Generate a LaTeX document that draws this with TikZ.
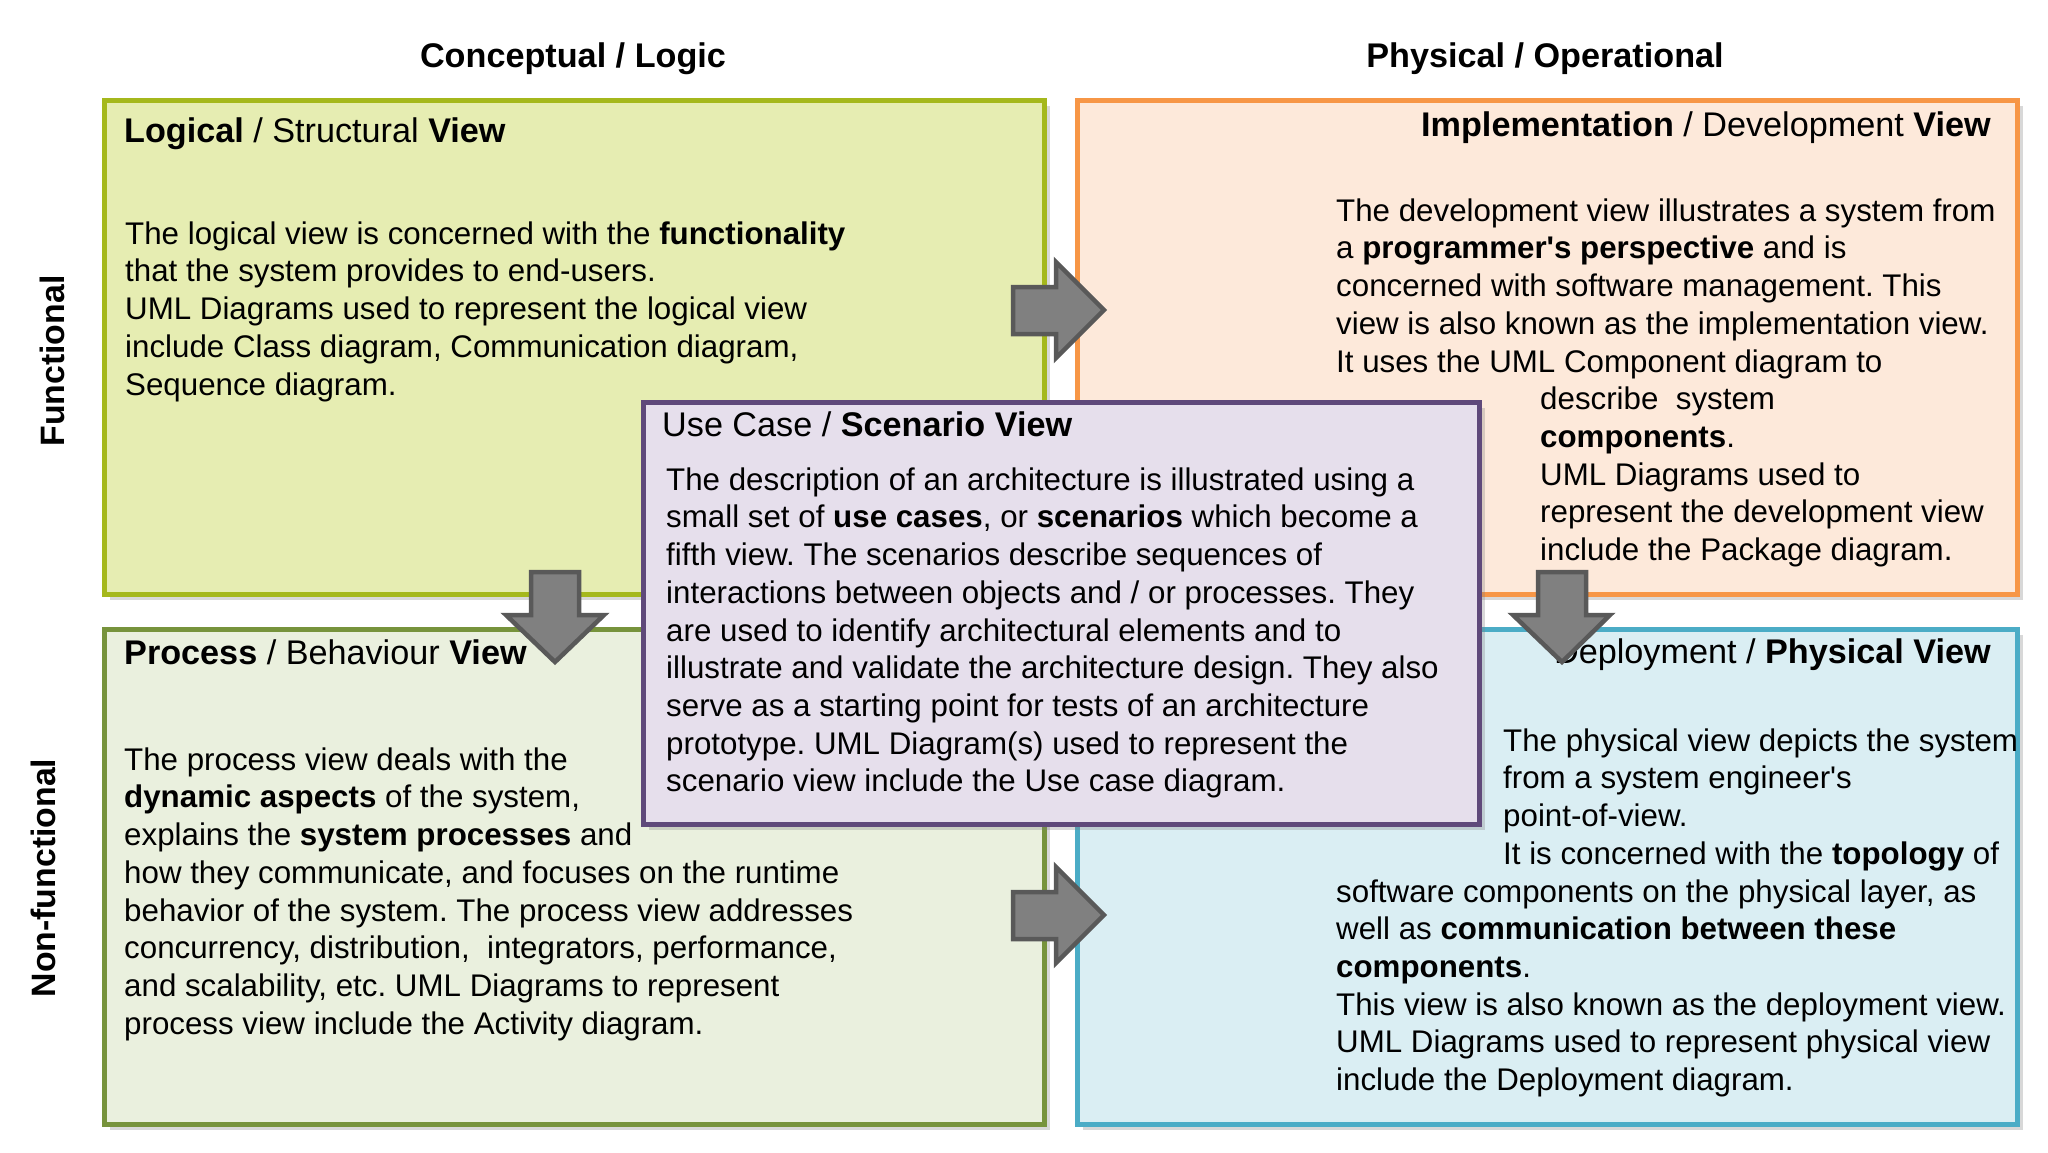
\documentclass[tikz,border=0pt]{standalone}
\usepackage{fontspec}
\setmainfont{Liberation Sans}
\usetikzlibrary{shadows}
\definecolor{lgfill}{HTML}{E6EDB2}
\definecolor{lgdraw}{HTML}{A5B81C}
\definecolor{imfill}{HTML}{FDE9DA}
\definecolor{imdraw}{HTML}{F79646}
\definecolor{prfill}{HTML}{EAF0DE}
\definecolor{prdraw}{HTML}{77933C}
\definecolor{dpfill}{HTML}{DAEEF3}
\definecolor{dpdraw}{HTML}{4BACC6}
\definecolor{ucfill}{HTML}{E6DFEC}
\definecolor{ucdraw}{HTML}{5F497A}
\definecolor{arfill}{HTML}{808080}
\definecolor{ardraw}{HTML}{595959}
\newcommand\tstrut{\rule{0pt}{24pt}}
\frenchspacing
\begin{document}
\begin{tikzpicture}[x=1pt,y=-1pt,
  viewbox/.style={rectangle, line width=4.5pt, inner sep=0pt, anchor=north west,
    drop shadow={shadow xshift=6pt, shadow yshift=-6pt, opacity=.3, fill=black!50}},
  coltitle/.style={font=\fontsize{34.2}{40}\selectfont\bfseries, inner sep=0pt, anchor=base},
  sidelabel/.style={font=\fontsize{33.8}{40}\selectfont\bfseries, inner sep=0pt, rotate=90},
  boxtitle/.style={font=\fontsize{34.2}{40}\selectfont, inner sep=0pt},
  bodytext/.style={font=\fontsize{31.3}{37.7}\selectfont\frenchspacing, inner sep=0pt, align=left, anchor=north west},
  blockarrow/.style={fill=arfill, draw=ardraw, line width=4.5pt, line join=miter}]
\useasboundingbox (0,0) rectangle (2048,1152);
\fill[white] (0,0) rectangle (2048,1152);

% column and row labels
\node[coltitle] (colA) at (573,67) {Conceptual / Logic};
\node[coltitle] (colB) at (1545,67) {Physical / Operational};
\node[sidelabel] (rowA) at (52,361) {Functional};
\node[sidelabel] (rowB) at (43,878) {Non-functional};

% quadrant boxes
\node[viewbox, fill=lgfill, draw=lgdraw, minimum width=940pt, minimum height=494pt] (logical) at (102,98) {};
\node[viewbox, fill=imfill, draw=imdraw, minimum width=940pt, minimum height=494pt] (impl) at (1075,98) {};
\node[viewbox, fill=prfill, draw=prdraw, minimum width=940pt, minimum height=495pt] (process) at (102,627) {};
\node[viewbox, fill=dpfill, draw=dpdraw, minimum width=940pt, minimum height=495pt] (deploy) at (1075,627) {};

% logical view text
\node[boxtitle, anchor=base west] (logicalT) at (124,142) {\textbf{Logical} / Structural \textbf{View}};
\node[bodytext] (logicalB) at (125,220) {\tstrut The logical view is concerned with the \textbf{functionality}\\
that the system provides to end-users.\\
UML Diagrams used to represent the logical view\\
include Class diagram, Communication diagram,\\
Sequence diagram.};

% implementation view text
\node[boxtitle, anchor=base east] (implT) at (1991,136) {\textbf{Implementation} / Development \textbf{View}};
\node[bodytext] (implB) at (1336,197) {\tstrut The development view illustrates a system from\\
a \textbf{programmer\textquotesingle s perspective} and is\\
concerned with software management. This\\
view is also known as the implementation view.\\
It uses the UML Component diagram to\\
\hspace*{204pt}describe\ \ system\\
\hspace*{204pt}\textbf{components}.\\
\hspace*{204pt}UML Diagrams used to\\
\hspace*{204pt}represent the development view\\
\hspace*{204pt}include the Package diagram.};

% process view text
\node[boxtitle, anchor=base west] (processT) at (124,664) {\textbf{Process} / Behaviour \textbf{View}};
\node[bodytext] (processB) at (124,746) {\tstrut The process view deals with the\\
\textbf{dynamic aspects} of the system,\\
explains the \textbf{system processes} and\\
how they communicate, and focuses on the runtime\\
behavior of the system. The process view addresses\\
concurrency, distribution,\ \ integrators, performance,\\
and scalability, etc. UML Diagrams to represent\\
process view include the Activity diagram.};

% deployment view text
\node[boxtitle, anchor=base east] (deployT) at (1991,663) {Deployment / \textbf{Physical View}};
\node[bodytext] (deployB) at (1336,727) {\tstrut\hspace*{167pt}The physical view depicts the system\\
\hspace*{167pt}from a system engineer\textquotesingle s\\
\hspace*{167pt}point-of-view.\\
\hspace*{167pt}It is concerned with the \textbf{topology} of\\
software components on the physical layer, as\\
well as \textbf{communication between these}\\
\textbf{components}.\\
This view is also known as the deployment view.\\
UML Diagrams used to represent physical view\\
include the Deployment diagram.};

% block arrows
\draw[blockarrow] (1013,287) -- (1056,287) -- (1056,262) -- (1104,310) -- (1056,358) -- (1056,334) -- (1013,334) -- cycle;
\draw[blockarrow] (1013,892) -- (1056,892) -- (1056,867) -- (1104,915) -- (1056,963) -- (1056,939) -- (1013,939) -- cycle;
\draw[blockarrow] (531,572) -- (579,572) -- (579,615) -- (604,615) -- (555,662) -- (506,615) -- (531,615) -- cycle;
\draw[blockarrow] (1538,572) -- (1586,572) -- (1586,615) -- (1610,615) -- (1562,662) -- (1513,615) -- (1538,615) -- cycle;

% use case / scenario view
\node[viewbox, fill=ucfill, draw=ucdraw, minimum width=836pt, minimum height=422pt] (usecase) at (641,400) {};
\node[boxtitle, anchor=base west] (usecaseT) at (662,436) {Use Case / \textbf{Scenario View}};
\node[bodytext] (usecaseB) at (666,466) {\tstrut The description of an architecture is illustrated using a\\
small set of \textbf{use cases}, or \textbf{scenarios} which become a\\
fifth view. The scenarios describe sequences of\\
interactions between objects and / or processes. They\\
are used to identify architectural elements and to\\
illustrate and validate the architecture design. They also\\
serve as a starting point for tests of an architecture\\
prototype. UML Diagram(s) used to represent the\\
scenario view include the Use case diagram.};
\end{tikzpicture}
\end{document}
